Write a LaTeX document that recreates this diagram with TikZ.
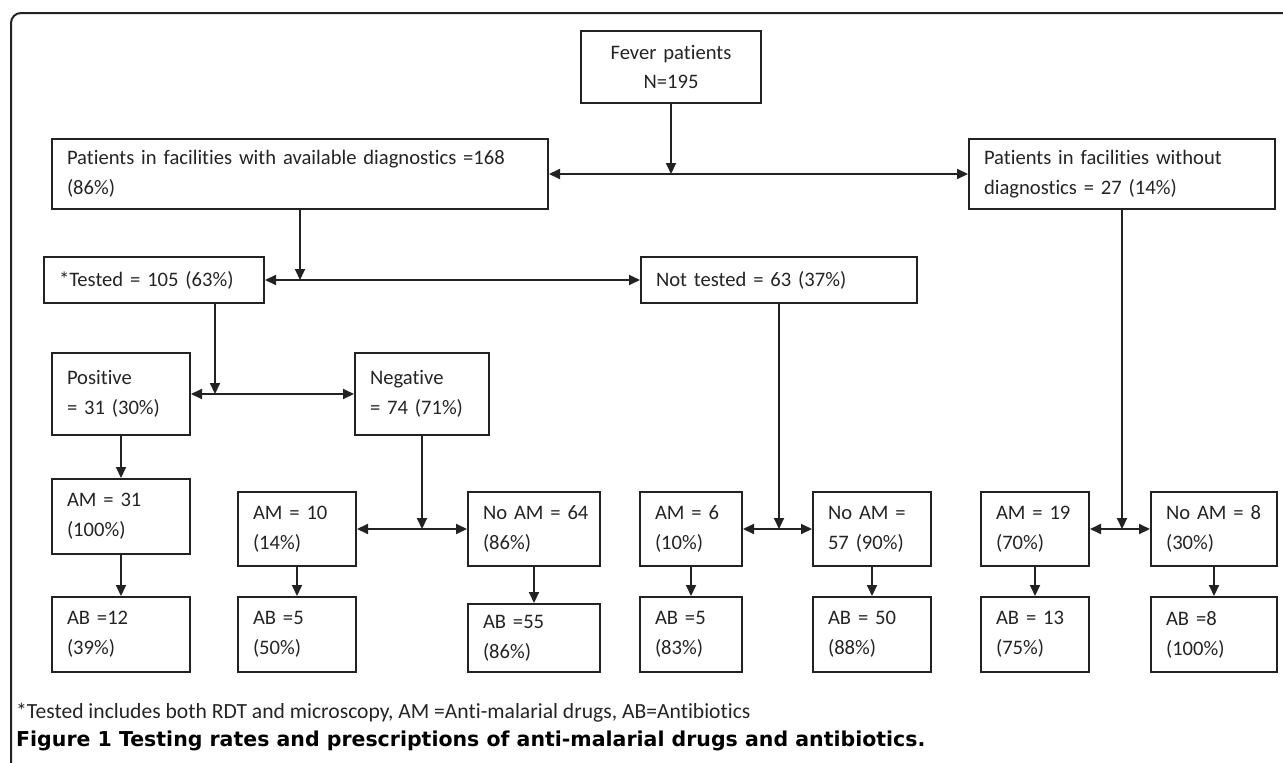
\documentclass[tikz,border=0pt]{standalone}
\usepackage{fontspec}
\setmainfont{Carlito}[Ligatures=NoCommon]
\newfontfamily\captionfont{DejaVu Sans}
\usepackage{tikz}
\usetikzlibrary{arrows.meta}
\definecolor{ink}{HTML}{222222}
\definecolor{txt}{HTML}{242424}

\begin{document}
\begin{tikzpicture}[x=1pt, y=-1pt,
        box/.style={rectangle, draw=ink, line width=2pt, anchor=north west, align=left, inner xsep=0pt, inner ysep=0pt, text=txt, font=\fontsize{20.6}{30}\selectfont, execute at begin node={\leftskip=15pt\relax}},
        title/.style={rectangle, draw=ink, line width=2pt, anchor=north west, align=center, inner xsep=0pt, inner ysep=0pt, text=txt, font=\fontsize{20.6}{29}\selectfont},
        arr/.style={draw=ink, line width=2pt, -{Triangle[length=11pt, width=10pt]}},
        darr/.style={draw=ink, line width=2pt, {Triangle[length=11pt, width=10pt]}-{Triangle[length=11pt, width=10pt]}},
        note/.style={anchor=west, inner sep=0pt, text=txt, font=\fontsize{21.6}{24}\selectfont}
      ]
        \useasboundingbox (0,0) rectangle (1283,763);
        \draw[ink, line width=2pt, rounded corners=10pt] (1283,13) -- (11,13) -- (11,763);

        \node[title, text width=180pt, minimum height=72pt]  (fever)     at (580,30)   {Fever patients\\N=195};
        \node[box, text width=496pt, minimum height=70pt]  (withdiag)  at (51,138)   {Patients in facilities with available diagnostics =168\\(86\%)};
        \node[box, text width=306pt, minimum height=70pt]  (nodiag)    at (968,138)  {Patients in facilities without\\diagnostics = 27 (14\%)};
        \node[box, text width=220pt, minimum height=46pt]  (tested)    at (43,256)   {*Tested = 105 (63\%)};
        \node[box, text width=276pt, minimum height=46pt]  (nottested) at (640,256)  {Not tested = 63 (37\%)};
        \node[box, text width=138pt, minimum height=82pt]  (positive)  at (51,352)   {Positive\\= 31 (30\%)};
        \node[box, text width=134pt, minimum height=82pt]  (negative)  at (354,352)  {Negative\\= 74 (71\%)};

        \node[box, text width=138pt, minimum height=75pt]  (amA)       at (51,478)   {AM = 31\\(100\%)};
        \node[box, text width=118pt, minimum height=74pt]  (amB)       at (237,491)  {AM = 10\\(14\%)};
        \node[box, text width=132pt, minimum height=74pt]  (noamB)     at (467,491)  {No AM = 64\\(86\%)};
        \node[box, text width=102pt, minimum height=74pt]  (amC)       at (639,491)  {AM = 6\\(10\%)};
        \node[box, text width=118pt, minimum height=74pt]  (noamC)     at (812,491)  {No AM =\\57 (90\%)};
        \node[box, text width=108pt, minimum height=74pt]  (amD)       at (980,491)  {AM = 19\\(70\%)};
        \node[box, text width=126pt, minimum height=74pt]  (noamD)     at (1150,491) {No AM = 8\\(30\%)};

        \node[box, text width=138pt, minimum height=75pt]  (abA)       at (51,596)   {AB =12\\(39\%)};
        \node[box, text width=118pt, minimum height=75pt]  (abB)       at (237,596)  {AB =5\\(50\%)};
        \node[box, text width=132pt, minimum height=68pt]  (abnoB)     at (467,603)  {AB =55\\(86\%)};
        \node[box, text width=102pt, minimum height=75pt]  (abC)       at (639,596)  {AB =5\\(83\%)};
        \node[box, text width=118pt, minimum height=75pt]  (abnoC)     at (812,596)  {AB = 50\\(88\%)};
        \node[box, text width=108pt, minimum height=75pt]  (abD)       at (980,596)  {AB = 13\\(75\%)};
        \node[box, text width=126pt, minimum height=75pt]  (abnoD)     at (1150,596) {AB =8\\(100\%)};

        \coordinate (split) at (215,0);

        \draw[arr]   (fever.south) -- (fever.south |- withdiag.east);
        \draw[darr]  (withdiag.east) -- (nodiag.west);
        \draw[arr]   (withdiag.south) -- (withdiag.south |- tested.east);
        \draw[darr]  (tested.east) -- (nottested.west);
        \draw[arr]   (tested.south -| split) -- (split |- positive.east);
        \draw[darr]  (positive.east) -- (negative.west);
        \draw[arr]   (positive.south) -- (amA.north);
        \draw[arr]   (negative.south) -- (negative.south |- amB.east);
        \draw[darr]  (amB.east) -- (noamB.west);
        \draw[arr]   (nottested.south) -- (nottested.south |- amC.east);
        \draw[darr]  (amC.east) -- (noamC.west);
        \draw[arr]   (nodiag.south) -- (nodiag.south |- amD.east);
        \draw[darr]  (amD.east) -- (noamD.west);

        \foreach \from/\to in {amA/abA, amB/abB, noamB/abnoB, amC/abC, noamC/abnoC, amD/abD, noamD/abnoD}
          \draw[arr] (\from.south) -- (\to.north);

        \node[note]  (footnote) at (16,713) {*Tested includes both RDT and microscopy, AM =Anti-malarial drugs, AB=Antibiotics};
        \node[note, text=black, font=\captionfont\bfseries\fontsize{20.5}{24}\selectfont]  (caption) at (16,741) {Figure 1 Testing rates and prescriptions of anti-malarial drugs and antibiotics.};
      \end{tikzpicture}
\end{document}
